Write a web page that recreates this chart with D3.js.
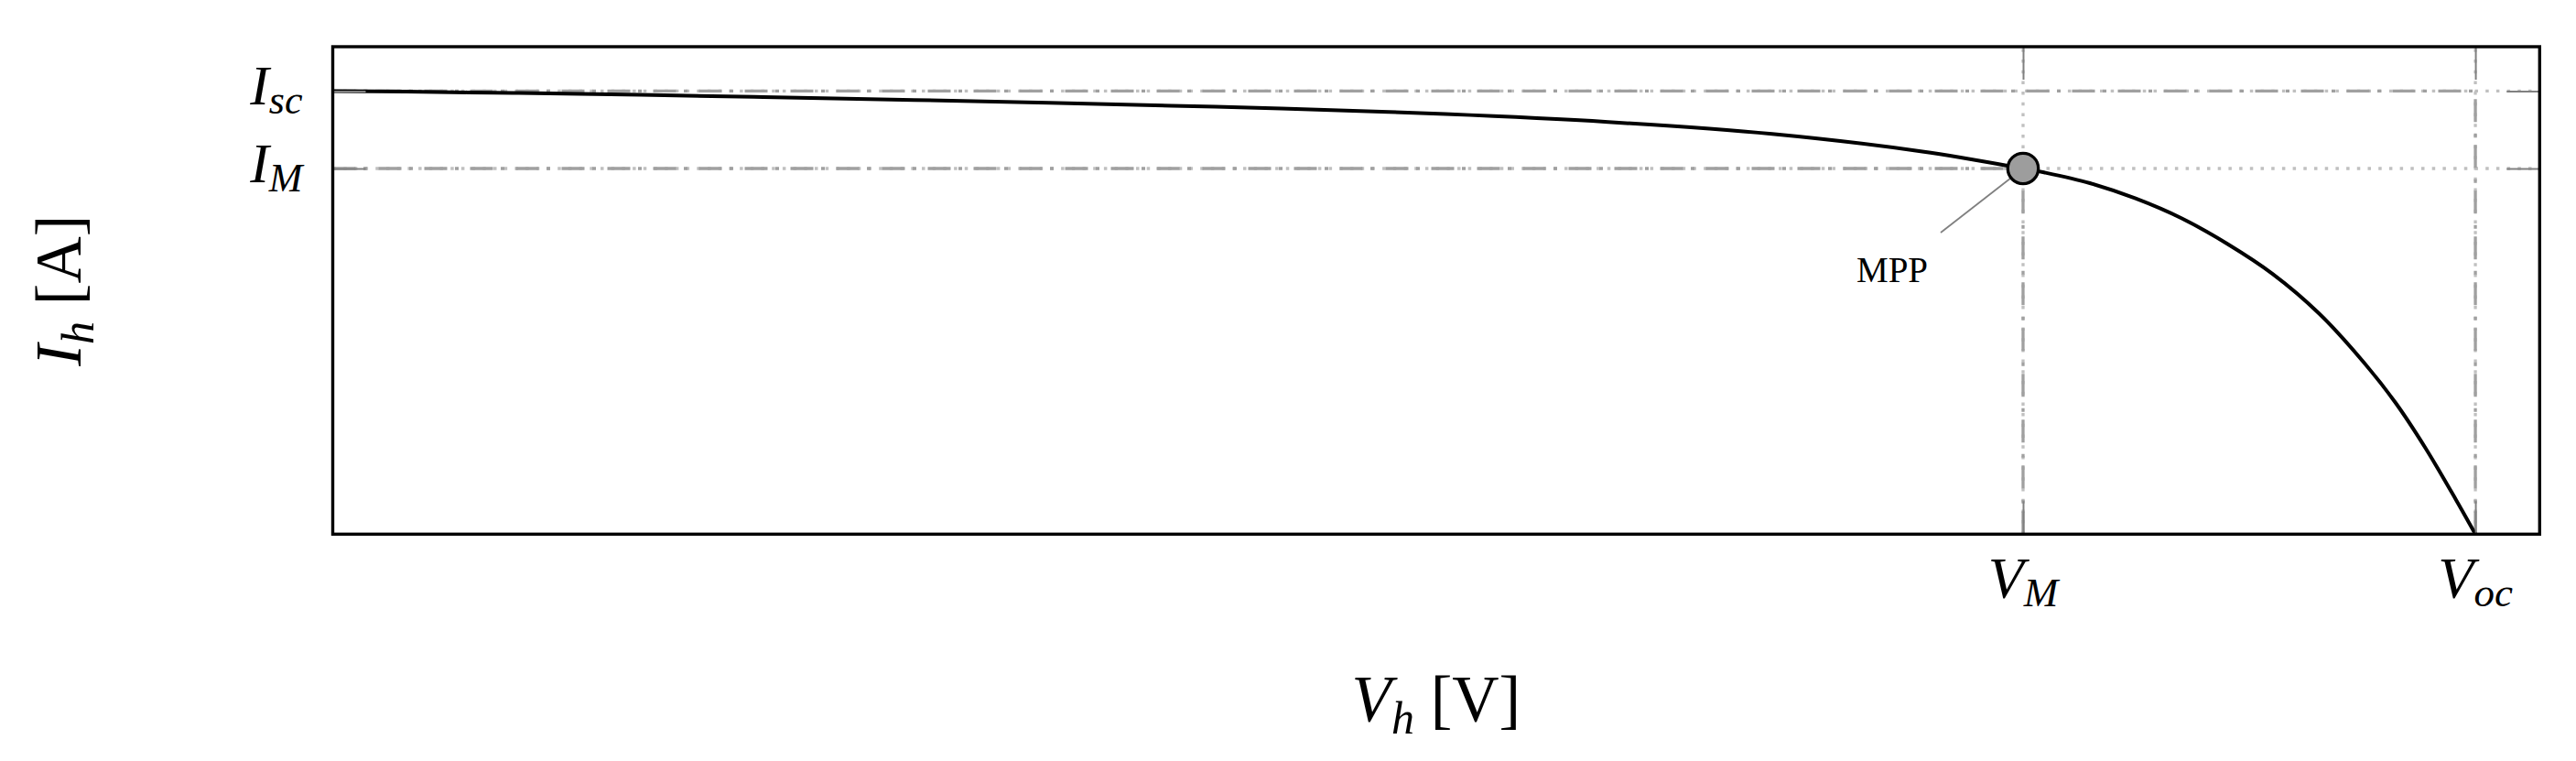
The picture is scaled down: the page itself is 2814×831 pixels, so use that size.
<!DOCTYPE html>
<html>
<head>
<meta charset="utf-8">
<script src="https://cdn.jsdelivr.net/npm/d3@7/dist/d3.min.js"></script>
<style>
  html, body { margin: 0; padding: 0; background: #fff; }
  svg { display: block; }
  text { font-family: "Liberation Serif", "Times New Roman", serif; fill: #000; }
</style>
</head>
<body>
<svg id="chart" width="2814" height="831"></svg>
<script>
// ---- data (normalised units) ----
const voltage = [0, 0.0340, 0.0630, 0.0840, 0.1083, 0.1438, 0.2010, 0.2715, 0.3343, 0.3915,
                 0.4428, 0.5193, 0.5953, 0.6718, 0.7419, 0.7889, 0.7987, 0.8201, 0.8414, 0.8628,
                 0.8842, 0.9055, 0.9269, 0.9482, 0.9628, 0.9769, 0.9910, 1.0];
const current = [1.0, 0.9985, 0.9969, 0.9956, 0.9940, 0.9913, 0.9864, 0.9798, 0.9733, 0.9669,
                 0.9603, 0.9479, 0.9301, 0.9031, 0.8634, 0.8252, 0.8163, 0.7921, 0.7576, 0.7130,
                 0.6553, 0.5869, 0.4987, 0.3860, 0.2961, 0.1928, 0.0771, 0];
const keyVoltage = [0.7889, 1.0];            // V_M, V_oc
const keyVoltageBase = ["V", "V"];
const keyVoltageSub = ["M", "oc"];
const keyCurrent = [0.8252, 1.0];            // I_M, I_sc
const keyCurrentBase = ["I", "I"];
const keyCurrentSub = ["M", "sc"];
const mpp = {v: 0.7889, i: 0.8252, label: "MPP"};
const xDomain = [0, 1.03];
const yDomain = [0, 1.1];

(function () {
// ---- layout ----
const pL = 363.5, pR = 2774.3, pT = 51, pB = 583.3;
const svg = d3.select("#chart");
const x = d3.scaleLinear().domain(xDomain).range([pL, pR]);
const y = d3.scaleLinear().domain(yDomain).range([pB, pT]);

const dotted = "3.5,8.2";
const dashdot = "25,8.5,4,12.5";

// dotted reference lines (full span)
const g = svg.append("g");
keyCurrent.forEach(c => {
  g.append("line").attr("x1", pL).attr("x2", pR).attr("y1", y(c)).attr("y2", y(c))
    .attr("stroke", "#c0c0c0").attr("stroke-width", 3.3).attr("stroke-dasharray", dotted);
});
keyVoltage.forEach(v => {
  g.append("line").attr("y1", pB).attr("y2", pT).attr("x1", x(v)).attr("x2", x(v))
    .attr("stroke", "#c0c0c0").attr("stroke-width", 3.3).attr("stroke-dasharray", dotted);
});
// dash-dot lines from the axes to the curve points
keyCurrent.forEach((c, k) => {
  g.append("line").attr("x1", pL).attr("x2", x(keyVoltage[k])).attr("y1", y(c)).attr("y2", y(c))
    .attr("stroke", "#a0a0a0").attr("stroke-width", 3.3).attr("stroke-dasharray", dashdot);
});
keyVoltage.forEach((v, k) => {
  g.append("line").attr("y1", pB).attr("y2", y(keyCurrent[k])).attr("x1", x(v)).attr("x2", x(v))
    .attr("stroke", "#a0a0a0").attr("stroke-width", 3.3).attr("stroke-dasharray", dashdot);
});

// curve
const pts = voltage.map((v, k) => [v, current[k]]);
svg.append("path").datum(pts)
  .attr("fill", "none").attr("stroke", "#000").attr("stroke-width", 4)
  .attr("stroke-linejoin", "round")
  .attr("d", d3.line().x(d => x(d[0])).y(d => y(d[1])).curve(d3.curveCatmullRom.alpha(0.5)));

// inward ticks on all four sides
function styleAxis(sel) {
  sel.select(".domain").remove();
  sel.selectAll(".tick line").attr("stroke", "#808080").attr("stroke-width", 2);
  sel.selectAll(".tick text").remove();
}
svg.append("g").attr("transform", `translate(${pL},0)`)
  .call(d3.axisLeft(y).tickValues(keyCurrent).tickSize(-36)).call(styleAxis);
svg.append("g").attr("transform", `translate(${pR},0)`)
  .call(d3.axisRight(y).tickValues(keyCurrent).tickSize(-36)).call(styleAxis);
svg.append("g").attr("transform", `translate(0,${pB})`)
  .call(d3.axisBottom(x).tickValues(keyVoltage).tickSize(-36)).call(styleAxis);
svg.append("g").attr("transform", `translate(0,${pT})`)
  .call(d3.axisTop(x).tickValues(keyVoltage).tickSize(-36)).call(styleAxis);

// frame
svg.append("rect").attr("x", pL).attr("y", pT).attr("width", pR - pL).attr("height", pB - pT)
  .attr("fill", "none").attr("stroke", "#000").attr("stroke-width", 3.4);

// tick labels
keyCurrent.forEach((c, k) => {
  const t = svg.append("text").attr("x", pL - 33).attr("y", y(c) + 15)
    .attr("text-anchor", "end").attr("font-size", 62).attr("font-style", "italic");
  t.append("tspan").text(keyCurrentBase[k]);
  t.append("tspan").attr("font-size", 44).attr("dy", 10).text(keyCurrentSub[k]);
});
keyVoltage.forEach((v, k) => {
  const t = svg.append("text").attr("x", x(v)).attr("y", 653)
    .attr("text-anchor", "middle").attr("font-size", 64).attr("font-style", "italic");
  t.append("tspan").text(keyVoltageBase[k]);
  t.append("tspan").attr("font-size", 45).attr("dy", 9).text(keyVoltageSub[k]);
});

// axis titles
const xt = svg.append("text").attr("x", (pL + pR) / 2).attr("y", 787)
  .attr("text-anchor", "middle").attr("font-size", 71);
xt.append("tspan").attr("font-style", "italic").text("V");
xt.append("tspan").attr("font-style", "italic").attr("font-size", 50).attr("dy", 14).text("h");
xt.append("tspan").attr("dy", -14).text(" [V]");

const yt = svg.append("text").attr("transform", `translate(88,${(pT + pB) / 2}) rotate(-90)`)
  .attr("text-anchor", "middle").attr("font-size", 71);
yt.append("tspan").attr("font-style", "italic").text("I");
yt.append("tspan").attr("font-style", "italic").attr("font-size", 50).attr("dy", 14).text("h");
yt.append("tspan").attr("dy", -14).text(" [A]");

// MPP marker and annotation
const mx = x(mpp.v), my = y(mpp.i);
svg.append("line").attr("x1", mx - 90).attr("y1", my + 70).attr("x2", mx).attr("y2", my)
  .attr("stroke", "#808080").attr("stroke-width", 1.8);
svg.append("circle").attr("cx", mx).attr("cy", my).attr("r", 16.7)
  .attr("fill", "#9d9d9d").attr("stroke", "#000").attr("stroke-width", 3.3);
svg.append("text").attr("x", mx - 143).attr("y", my + 124).attr("text-anchor", "middle")
  .attr("font-size", 39).text(mpp.label);
})();
</script>
</body>
</html>
